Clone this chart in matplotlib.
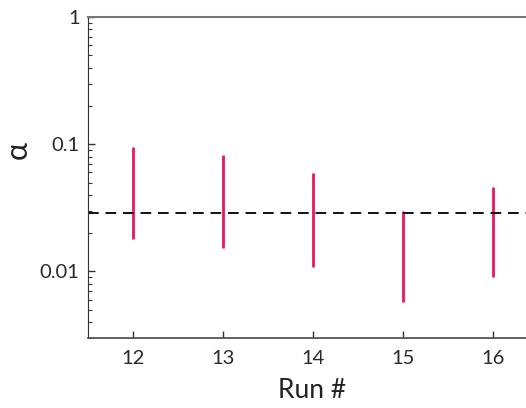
import matplotlib
matplotlib.use("Agg")
import matplotlib.pyplot as plt
from matplotlib.ticker import LogLocator, FixedLocator, FixedFormatter, NullFormatter

runs = [12, 13, 14, 15, 16]
alpha_low = [0.0179, 0.0152, 0.0109, 0.0058, 0.0090]
alpha_high = [0.095, 0.082, 0.059, 0.0297, 0.0458]
alpha_ref = 0.029

plt.rcParams['font.family'] = ['Lato', 'DejaVu Sans']

fig = plt.figure(figsize=(5.26, 4.08), dpi=100)
ax = fig.add_axes([88/526, 70/408, 450/526, 321/408])

ax.vlines(runs, alpha_low, alpha_high, color='#E8185A', lw=2)
ax.axhline(alpha_ref, color='#111111', lw=1.4, ls=(0, (5.5, 3.5)))

ax.set_yscale('log')
ax.set_ylim(0.003, 1)
ax.set_xlim(11.5, 16.5)

ax.yaxis.set_major_locator(FixedLocator([0.01, 0.1, 1]))
ax.yaxis.set_major_formatter(FixedFormatter(['0.01', '0.1', '1']))
ax.yaxis.set_minor_locator(LogLocator(base=10, subs=range(2, 10)))
ax.yaxis.set_minor_formatter(NullFormatter())
ax.set_xticks(runs)

ax.tick_params(axis='both', which='major', direction='in', length=5, width=1, labelsize=14.5, colors='#333333', labelcolor='#2a2a2a')
ax.tick_params(axis='y', which='minor', direction='in', length=3, width=0.8, colors='#333333')
ax.tick_params(axis='x', pad=9)
ax.tick_params(axis='y', pad=6)

ax.spines['right'].set_visible(False)
ax.spines['top'].set_color('#777777')
ax.spines['top'].set_linewidth(1.5)
ax.spines['left'].set_color('#333333')
ax.spines['bottom'].set_color('#555555')
ax.spines['bottom'].set_linewidth(1.3)

ax.set_xlabel('Run #', fontsize=19, color='#222222')
ax.xaxis.set_label_coords((312 - 88) / 450, -40 / 321)
ax.set_ylabel('α', fontsize=22, color='#222222')
ax.yaxis.set_label_coords((32 - 88) / 450, 0.585)

fig.savefig('out.png', dpi=100)
